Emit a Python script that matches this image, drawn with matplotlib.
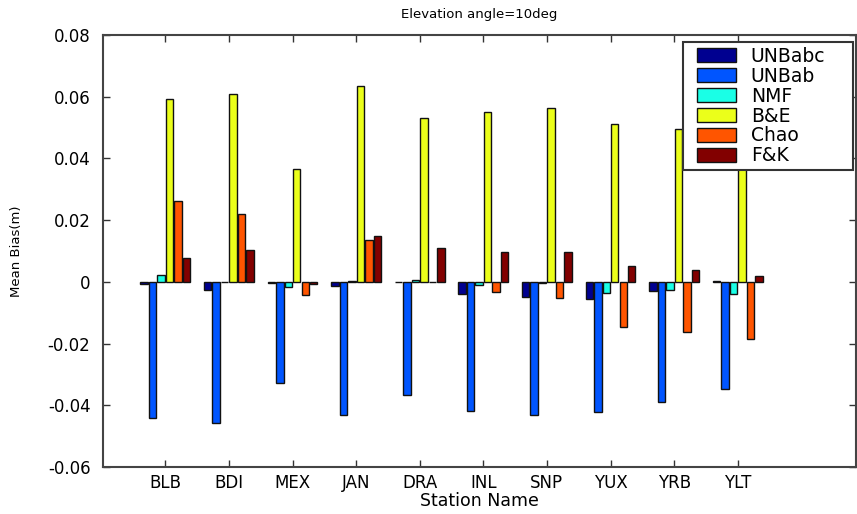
import matplotlib
matplotlib.use("Agg")
import matplotlib.pyplot as plt
import matplotlib.patches as mpatches
from matplotlib.legend_handler import HandlerPatch, update_from_first_child
from matplotlib.container import BarContainer
import numpy as np

stations = ["BLB", "BDI", "MEX", "JAN", "DRA", "INL", "SNP", "YUX", "YRB", "YLT"]
series_names = ["UNBabc", "UNBab", "NMF", "B&E", "Chao", "F&K"]

unbabc = [-0.0008, -0.0025, -0.0004, -0.0015, -0.0002, -0.0040, -0.0050, -0.0056, -0.0031, 0.0003]
unbab = [-0.0441, -0.0457, -0.0327, -0.0430, -0.0366, -0.0420, -0.0431, -0.0422, -0.0390, -0.0348]
nmf = [0.0023, 0.0001, -0.0016, 0.0003, 0.0007, -0.0011, -0.0005, -0.0035, -0.0026, -0.0040]
be = [0.0594, 0.0609, 0.0365, 0.0635, 0.0532, 0.0549, 0.0565, 0.0513, 0.0496, 0.0470]
chao = [0.0262, 0.0220, -0.0044, 0.0136, 0.0001, -0.0034, -0.0053, -0.0145, -0.0162, -0.0185]
fk = [0.0077, 0.0103, -0.0007, 0.0149, 0.0111, 0.0098, 0.0098, 0.0050, 0.0037, 0.0020]

colors = ["#000090", "#0055FF", "#1AFFE6", "#EBFF1A", "#FF5500", "#820000"]

plt.rcParams['font.family'] = ['DejaVu Sans']

fig = plt.figure(figsize=(8.57, 5.14), dpi=100)
ax = fig.add_axes([103/857, 1-467/514, (856-103)/857, (467-35)/514])

data = [unbabc, unbab, nmf, be, chao, fk]
x = np.arange(1, len(stations) + 1)
slot = 0.8 / 6
for i, (vals, name, c) in enumerate(zip(data, series_names, colors)):
    ax.bar(x + (i - 2.5) * slot, vals, width=slot * 0.88, color=c,
           edgecolor="#111111", linewidth=1.0, label=name)

ax.set_xlim(0.02, 11.86)
ax.set_ylim(-0.06, 0.08)
ax.set_yticks(np.arange(-0.06, 0.0801, 0.02))
ax.set_yticklabels(["-0.06", "-0.04", "-0.02", "0", "0.02", "0.04", "0.06", "0.08"])
ax.set_xticks(x)
ax.set_xticklabels(stations)
ax.tick_params(direction="in", length=5, width=1, top=True, right=True,
               labelsize=12, colors="#333333", labelcolor="black")
ax.tick_params(axis="y", pad=9)
ax.tick_params(axis="x", pad=5)
for s in ax.spines.values():
    s.set_color("#444444")
    s.set_linewidth(1.5)

ax.set_xlabel("Station Name", fontsize=12.5, labelpad=0)
ax.set_ylabel("Mean Bias(m)", fontsize=9.5, labelpad=18)
ax.set_title("Elevation angle=10deg", fontsize=9.5, pad=12)


def offset_rect(legend, orig_handle, xdescent, ydescent, width, height, fontsize):
    off = 7.0
    return mpatches.Rectangle((-xdescent + off, -ydescent), width - off, height)


x0 = (683 - 103) / 753
w = 170 / 753
y0 = (467 - 170) / 432
h = 128 / 432
leg = ax.legend(loc="upper left", bbox_to_anchor=(x0, y0, w, h), mode="expand",
                borderaxespad=0, fontsize=13.5, frameon=True, fancybox=False,
                edgecolor="#333333", facecolor="white", framealpha=1.0,
                handlelength=2.56, handleheight=0.75, labelspacing=0.05,
                borderpad=0.25, handletextpad=0.8,
                handler_map={BarContainer: HandlerPatch(patch_func=offset_rect,
                                                        update_func=update_from_first_child)})
leg.get_frame().set_linewidth(1.5)

fig.savefig("out.png", dpi=100)
